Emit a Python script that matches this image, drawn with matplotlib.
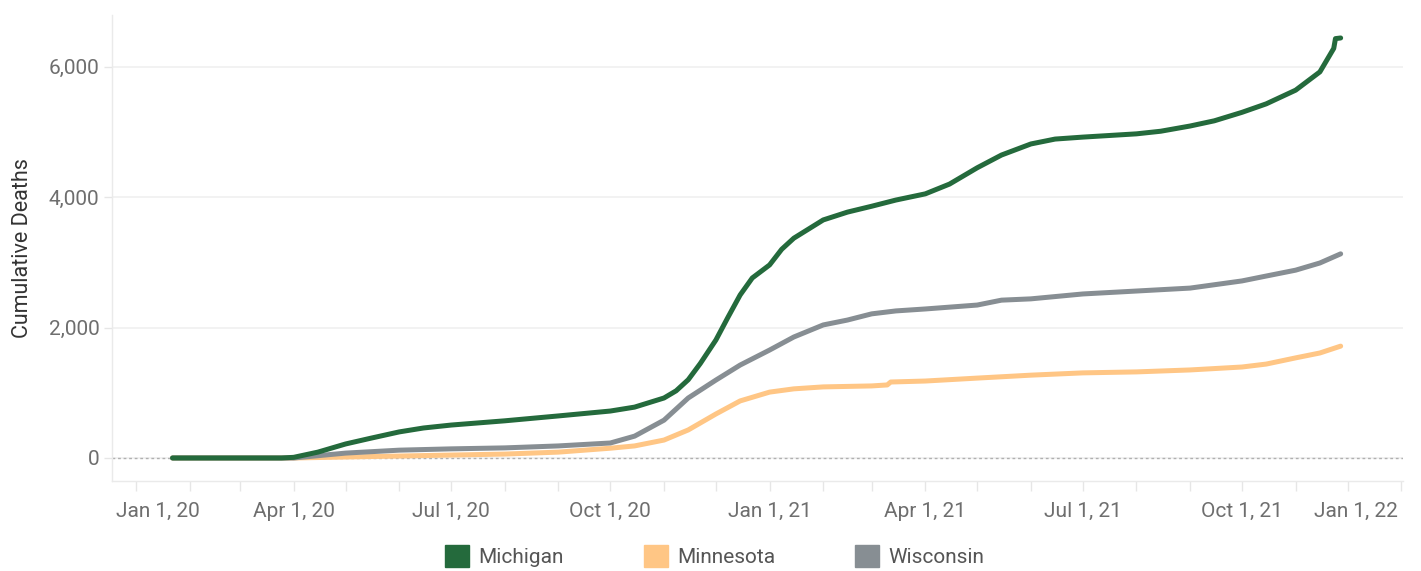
import matplotlib.pyplot as plt
import matplotlib.dates as mdates
from matplotlib.patches import Patch
import pandas as pd

# Cumulative deaths (approximate)
mi_dates = ["2020-01-22", "2020-03-25", "2020-04-01", "2020-04-15", "2020-05-01", "2020-05-15",
            "2020-06-01", "2020-06-15", "2020-07-01", "2020-08-01", "2020-09-01", "2020-10-01",
            "2020-10-15", "2020-11-01", "2020-11-08", "2020-11-15", "2020-11-22", "2020-12-01",
            "2020-12-08", "2020-12-15", "2020-12-22", "2021-01-01", "2021-01-08", "2021-01-15",
            "2021-02-01", "2021-02-15", "2021-03-01", "2021-03-15", "2021-04-01",
            "2021-04-15", "2021-05-01", "2021-05-15", "2021-06-01", "2021-06-15", "2021-07-01",
            "2021-08-01", "2021-08-15", "2021-09-01", "2021-09-15", "2021-10-01", "2021-10-15",
            "2021-11-01", "2021-11-15", "2021-11-23", "2021-11-24", "2021-11-27"]
mi_values = [0, 0, 10, 90, 215, 300,
             400, 460, 505, 570, 645, 720,
             780, 920, 1030, 1200, 1450, 1810,
             2160, 2500, 2760, 2960, 3200, 3370,
             3650, 3770, 3860, 3955, 4050,
             4200, 4450, 4645, 4815, 4890, 4920,
             4970, 5010, 5090, 5170, 5300, 5430,
             5640, 5920, 6280, 6430, 6440]

mn_dates = ["2020-01-22", "2020-04-01", "2020-05-01", "2020-06-01", "2020-07-01", "2020-08-01",
            "2020-09-01", "2020-10-01", "2020-10-15", "2020-11-01", "2020-11-15", "2020-12-01",
            "2020-12-15", "2021-01-01", "2021-01-15", "2021-02-01", "2021-03-01", "2021-03-10",
            "2021-03-12", "2021-04-01", "2021-05-01", "2021-06-01", "2021-07-01", "2021-08-01",
            "2021-09-01", "2021-10-01", "2021-10-15", "2021-11-01", "2021-11-15", "2021-11-27"]
mn_values = [0, 0, 15, 30, 45, 60,
             90, 150, 185, 275, 430, 675,
             875, 1010, 1060, 1090, 1105, 1120,
             1165, 1180, 1225, 1270, 1305, 1320,
             1350, 1395, 1440, 1535, 1610, 1715]

wi_dates = ["2020-01-22", "2020-04-01", "2020-05-01", "2020-06-01", "2020-07-01", "2020-08-01",
            "2020-09-01", "2020-10-01", "2020-10-15", "2020-11-01", "2020-11-15", "2020-12-01",
            "2020-12-15", "2021-01-01", "2021-01-15", "2021-02-01", "2021-02-15", "2021-03-01",
            "2021-03-15", "2021-04-01", "2021-05-01", "2021-05-15", "2021-06-01", "2021-07-01",
            "2021-08-01", "2021-09-01", "2021-10-01", "2021-10-15", "2021-11-01", "2021-11-15",
            "2021-11-27"]
wi_values = [0, 0, 75, 120, 140, 155,
             185, 230, 335, 580, 920, 1195,
             1425, 1655, 1855, 2040, 2115, 2210,
             2255, 2285, 2345, 2420, 2440, 2515,
             2560, 2605, 2715, 2790, 2880, 2990,
             3130]

states = ["Michigan", "Minnesota", "Wisconsin"]
colors = ["#246a3c", "#ffc685", "#878e93"]

tick_dates = ["2020-01-01", "2020-04-01", "2020-07-01", "2020-10-01", "2021-01-01",
              "2021-04-01", "2021-07-01", "2021-10-01", "2022-01-01"]
tick_labels = ["Jan 1, 20", "Apr 1, 20", "Jul 1, 20", "Oct 1, 20", "Jan 1, 21",
               "Apr 1, 21", "Jul 1, 21", "Oct 1, 21", "Jan 1, 22"]

plt.rcParams['font.family'] = ['Roboto', 'DejaVu Sans']

fig = plt.figure(figsize=(14.21, 5.71), dpi=100)
ax = fig.add_axes([0.0788, 0.1576, 0.9085, 0.8161])

series = [(mi_dates, mi_values), (mn_dates, mn_values), (wi_dates, wi_values)]
# Minnesota first, then Wisconsin, Michigan on top
for i in [1, 2, 0]:
    d, v = series[i]
    ax.plot(pd.to_datetime(d), v, color=colors[i], lw=3.6,
            solid_capstyle='round', solid_joinstyle='round', zorder=3)

ax.axhline(0, color="#b0b0b0", lw=1, ls=(0, (2, 2)), zorder=2)

ax.set_ylim(-353, 6792)
ax.set_xlim(pd.Timestamp("2019-12-18"), pd.Timestamp("2022-01-01") + pd.Timedelta(days=1))

ax.set_yticks([0, 2000, 4000, 6000])
ax.set_yticklabels(["0", "2,000", "4,000", "6,000"])
ax.yaxis.grid(True, color="#f0f0f0", lw=1.2)
ax.set_axisbelow(True)

ax.set_xticks(pd.to_datetime(tick_dates))
ax.set_xticklabels([])
ax.xaxis.set_minor_locator(mdates.MonthLocator())
n = len(tick_dates)
for k, (d, lab) in enumerate(zip(tick_dates, tick_labels)):
    ha = 'center'
    xoff = 0
    if k == 0:
        xoff = 22 * 0.72
    elif k == n - 1:
        ha = 'right'
        xoff = -3 * 0.72
    ax.annotate(lab, xy=(pd.Timestamp(d), 0), xycoords=('data', 'axes fraction'),
                xytext=(xoff, -15), textcoords='offset points',
                ha=ha, va='top', fontsize=15, color="#6e6e6e")

ax.tick_params(axis='x', which='both', length=7, color="#e6e6e6", width=1)
ax.tick_params(axis='y', length=6, color="#e6e6e6", width=1, pad=3,
               labelsize=15, labelcolor="#6e6e6e")

for s in ["top", "right"]:
    ax.spines[s].set_visible(False)
for s in ["left", "bottom"]:
    ax.spines[s].set_color("#eaeaea")
    ax.spines[s].set_linewidth(1)

ax.set_ylabel("Cumulative Deaths", fontsize=15.5, color="#333333")
ax.yaxis.set_label_coords(-0.061, 0.5)

handles = [Patch(facecolor=c, edgecolor=c) for c in colors]
fig.legend(handles, states, loc='center', bbox_to_anchor=(0.503, 0.026), ncol=3,
           frameon=False, fontsize=15, labelcolor="#555555",
           handlelength=1.15, handleheight=1.2, handletextpad=0.45, columnspacing=3.85)

fig.savefig("out.png", dpi=100)
